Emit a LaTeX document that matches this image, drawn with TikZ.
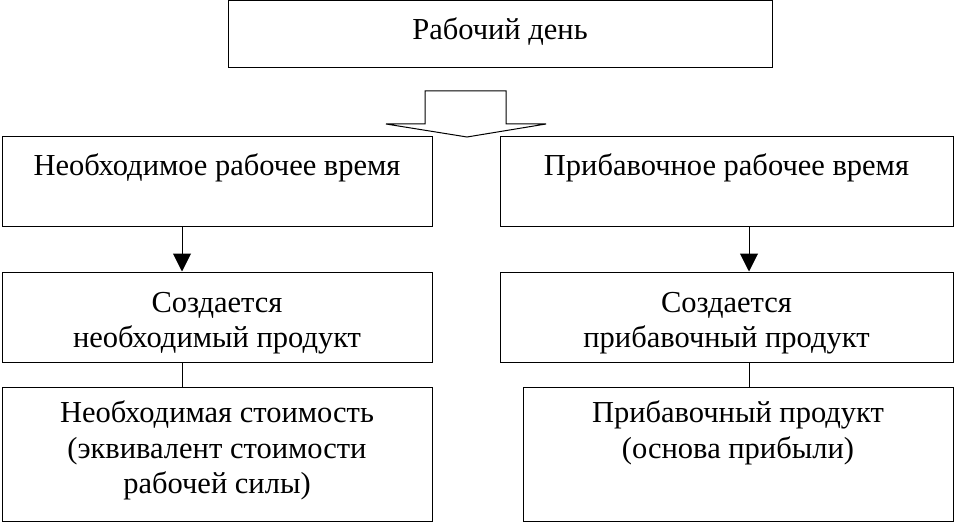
\documentclass[tikz,border=0pt]{standalone}
\usepackage{fontspec}
\setmainfont{Liberation Serif}
\usetikzlibrary{arrows.meta}
\begin{document}
\begin{tikzpicture}[x=1pt, y=-1pt, line width=1pt]
\tikzstyle{box}=[draw, rectangle, fill=white, align=center, inner sep=0pt, font={\fontsize{30.5}{35.5}\selectfont\lineskiplimit-20pt}]
\tikzstyle{arr}=[-{Triangle[length=18pt, width=18pt]}]
\useasboundingbox (0,0) rectangle (954,524);
\node[box, minimum width=544pt, minimum height=67pt] (day) at (500,34.5) {Рабочий день\\[-24pt]\mbox{}};
\node[box, minimum width=430pt, minimum height=90pt] (nt) at (217,182) {Необходимое рабочее время\\ \mbox{}};
\node[box, minimum width=453pt, minimum height=90pt] (st) at (726.5,182) {Прибавочное рабочее время\\ \mbox{}};
\node[box, minimum width=430pt, minimum height=90pt] (np) at (217,317) {Создается\\необходимый продукт\\[-41pt]\mbox{}};
\node[box, minimum width=453pt, minimum height=90pt] (sp) at (726.5,317) {Создается\\прибавочный продукт\\[-41pt]\mbox{}};
\node[box, minimum width=430pt, minimum height=134pt] (nv) at (217,454) {Необходимая стоимость\\(эквивалент стоимости\\рабочей силы)\\[-22pt]\mbox{}};
\node[box, minimum width=430pt, minimum height=134pt] (sv) at (738,454) {Прибавочный продукт\\(основа прибыли)\\ \mbox{}\\[-22pt]\mbox{}};

\draw (425,91) -- (425,124) -- (386,124) -- (467,137) -- (546,124) -- (506,124) -- (506,91) -- cycle;

\draw[arr] ([xshift=-35pt]nt.south) -- ([xshift=-35pt]np.north);
\draw[arr] ([xshift=22.5pt]st.south) -- ([xshift=22.5pt]sp.north);
\draw ([xshift=-35pt]np.south) -- ([xshift=-35pt]nv.north);
\draw ([xshift=22.5pt]sp.south) -- ([xshift=11pt]sv.north);
\end{tikzpicture}
\end{document}
